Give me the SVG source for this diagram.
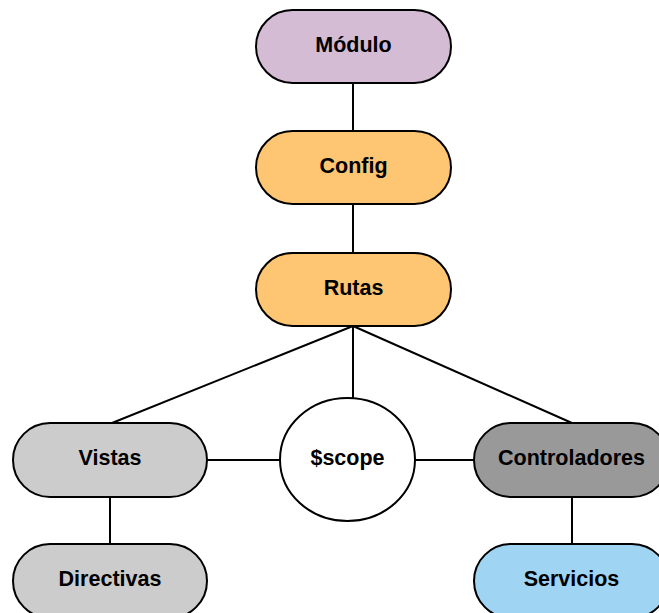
<svg xmlns="http://www.w3.org/2000/svg" width="659" height="613" viewBox="0 0 659 613">
  <style>
    .node { stroke: #000; stroke-width: 2; }
    .edge { stroke: #000; stroke-width: 2; fill: none; }
    .label { font-family: "Liberation Sans", Arial, sans-serif; font-weight: bold; font-size: 21.5px; fill: #000; text-anchor: middle; }
  </style>
  <rect width="659" height="613" fill="#fff"/>

  <g id="connectors">
    <line class="edge" x1="353" y1="83" x2="353" y2="131"/>
    <line class="edge" x1="353" y1="204" x2="353" y2="253"/>
    <line class="edge" x1="353" y1="326" x2="112" y2="423"/>
    <line class="edge" x1="353" y1="326" x2="353" y2="398"/>
    <line class="edge" x1="353" y1="326" x2="572" y2="423"/>
    <line class="edge" x1="207" y1="460" x2="280" y2="460"/>
    <line class="edge" x1="415" y1="460" x2="474" y2="460"/>
    <line class="edge" x1="110" y1="497" x2="110" y2="544"/>
    <line class="edge" x1="572" y1="497" x2="572" y2="544"/>
  </g>

  <g id="modulo">
    <rect class="node" x="256" y="10" width="195" height="73" rx="36.5" fill="#d5bcd5"/>
    <text class="label" x="353.5" y="52">Módulo</text>
  </g>
  <g id="config">
    <rect class="node" x="256" y="131" width="195" height="73" rx="36.5" fill="#fec672"/>
    <text class="label" x="353.5" y="173">Config</text>
  </g>
  <g id="rutas">
    <rect class="node" x="256" y="253" width="195" height="73" rx="36.5" fill="#fec672"/>
    <text class="label" x="353.5" y="295">Rutas</text>
  </g>
  <g id="vistas">
    <rect class="node" x="13" y="423" width="194" height="74" rx="37" fill="#cccccc"/>
    <text class="label" x="110" y="465">Vistas</text>
  </g>
  <g id="scope">
    <ellipse class="node" cx="347.5" cy="459.5" rx="67.5" ry="61.5" fill="#fff"/>
    <text class="label" x="347.5" y="465">$scope</text>
  </g>
  <g id="controladores">
    <rect class="node" x="474" y="423" width="195" height="74" rx="37" fill="#999999"/>
    <text class="label" x="571.5" y="465">Controladores</text>
  </g>
  <g id="directivas">
    <rect class="node" x="13" y="544" width="194" height="74" rx="37" fill="#cccccc"/>
    <text class="label" x="110" y="586">Directivas</text>
  </g>
  <g id="servicios">
    <rect class="node" x="474" y="544" width="195" height="74" rx="37" fill="#9fd4f2"/>
    <text class="label" x="571.5" y="586">Servicios</text>
  </g>
</svg>
